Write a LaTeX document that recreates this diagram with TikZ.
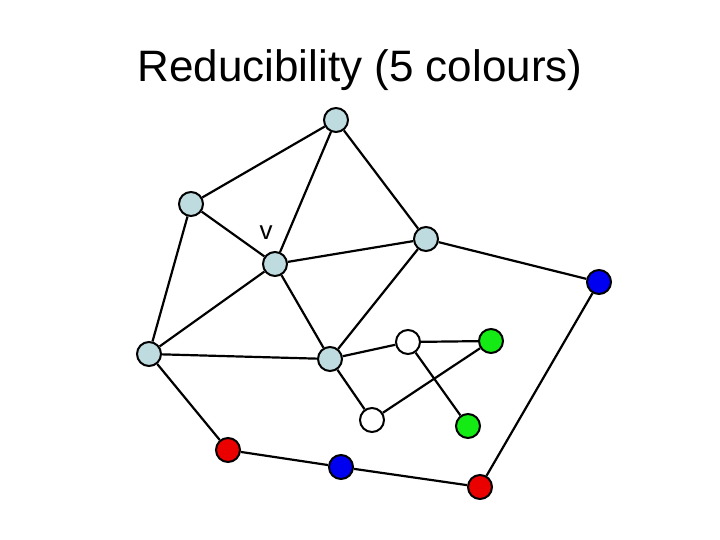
\documentclass[tikz,border=0pt]{standalone}
\usepackage{fontspec}
\setmainfont{Liberation Sans}
\definecolor{lb}{RGB}{190,220,224}
\definecolor{gr}{RGB}{20,235,20}
\definecolor{bl}{RGB}{0,0,240}
\definecolor{rd}{RGB}{235,0,0}
\begin{document}
\begin{tikzpicture}[x=1pt,y=-1pt,
  vtx/.style={circle,draw=black,line width=2pt,minimum size=24pt,inner sep=0pt},
  edge/.style={line width=2.2pt}]
\useasboundingbox (0,0) rectangle (720,540);
\node[font=\fontsize{44}{52}\selectfont] (title) at (360,70) {Reducibility (5 colours)};
\node[vtx,fill=lb] (top) at (336,120) {};
\node[vtx,fill=lb] (tl) at (191,204) {};
\node[vtx,fill=lb] (v) at (275,264) {};
\node[vtx,fill=lb] (r1) at (426,239) {};
\node[vtx,fill=bl] (b1) at (599,282) {};
\node[vtx,fill=lb] (lf) at (149,354) {};
\node[vtx,fill=lb] (m) at (330,359) {};
\node[vtx,fill=white] (w1) at (408,342) {};
\node[vtx,fill=gr] (g1) at (491,341) {};
\node[vtx,fill=white] (w2) at (372,420) {};
\node[vtx,fill=gr] (g2) at (468,426) {};
\node[vtx,fill=rd] (rd1) at (228,450) {};
\node[vtx,fill=bl] (b2) at (341,467) {};
\node[vtx,fill=rd] (rd2) at (480,487) {};
\node[font=\fontsize{26}{30}\selectfont] (vl) at (266,233) {v};
\draw[edge] (top)--(tl) (top)--(v) (top)--(r1) (tl)--(v) (tl)--(lf)
  (v)--(r1) (v)--(lf) (v)--(m) (r1)--(m) (r1)--(b1) (b1)--(rd2)
  (lf)--(m) (lf)--(rd1) (rd1)--(b2) (b2)--(rd2) (m)--(w1) (m)--(w2)
  (w1)--(g1) (w1)--(g2) (w2)--(g1);
\end{tikzpicture}
\end{document}
